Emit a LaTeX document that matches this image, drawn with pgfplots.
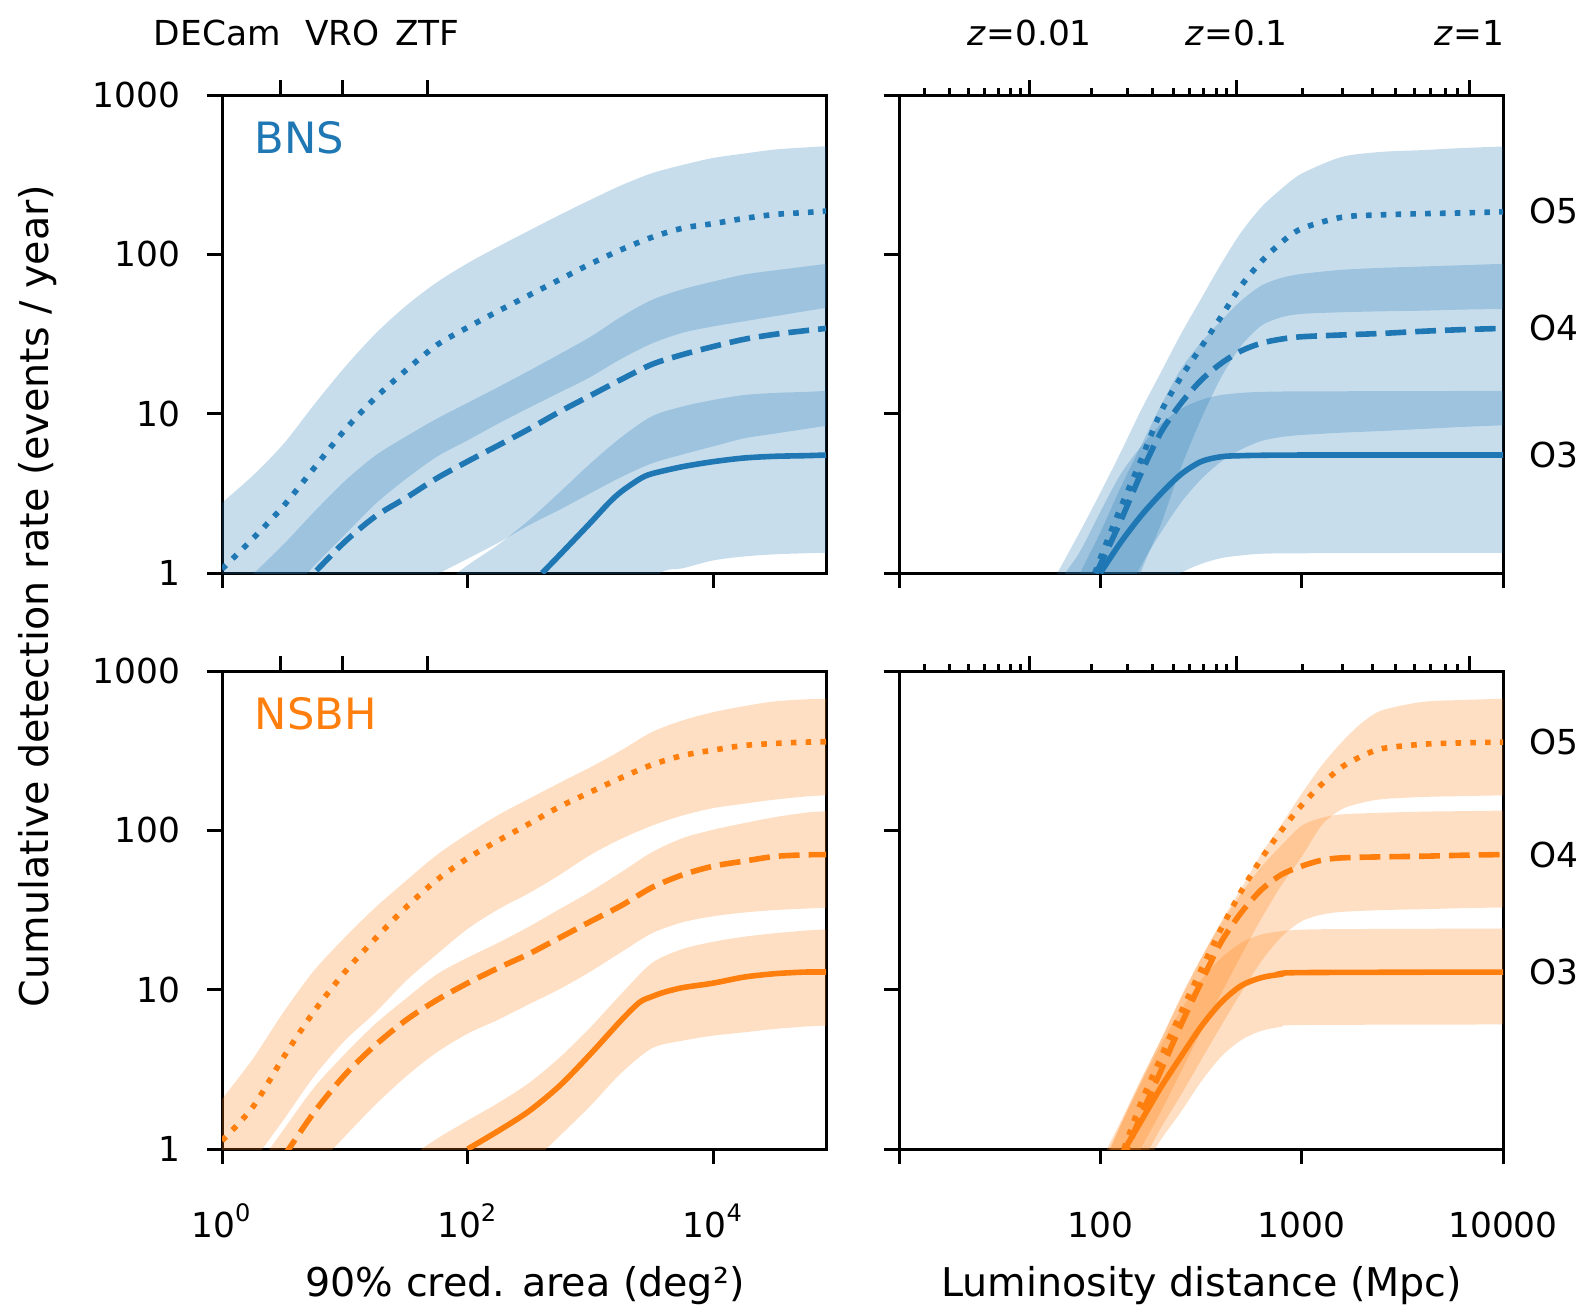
\documentclass[border=0pt]{standalone}
\usepackage{fontspec}
\setmainfont{DejaVu Sans}
\usepackage{pgfplots}
\usepgfplotslibrary{fillbetween}
\pgfplotsset{compat=1.18}
\definecolor{C0}{HTML}{1F77B4}
\definecolor{C1}{HTML}{FF7F0E}
\newcommand{\tickfont}{\fontsize{8.6}{10}\selectfont}
\newcommand{\labfont}{\fontsize{9.9}{12}\selectfont}
\newcommand{\panfont}{\fontsize{10.8}{12}\selectfont}
\pgfplotsset{
 every axis/.append style={width=151pt,height=119.5pt,scale only axis,anchor=south west,
   tick align=outside, major tick length=3.8pt, minor tick length=1.8pt,
   axis line style={line width=0.75pt},
   every tick/.append style={line width=0.75pt,black},
   tick label style={font=\tickfont}},
 edge/.style={draw=none, smooth, tension=0.5, forget plot},
 myband/.style={fill=#1, fill opacity=0.25, draw=none},
 mymed/.style={color=#1, line width=1.4pt, smooth, tension=0.5},
 mydsh/.style={dash pattern=on 5.2pt off 2.25pt},
 mydtt/.style={dash pattern=on 1.4pt off 2.3pt},
}
\begin{document}
\begin{tikzpicture}
% ---------------- top left: BNS vs area ----------------
\begin{axis}[at={(55.5pt,-143.25pt)}, xmode=log, ymode=log, ymin=1, ymax=1000, xmin=1, xmax=82600,
  ytick={1,10,100,1000}, xminorticks=false, yminorticks=false,
  xtick pos=left, ytick pos=left,
  xticklabel style={anchor=base,yshift=-18.2pt},
  yticklabel style={anchor=east,inner sep=0pt,xshift=-6.5pt},
  xtick={1,100,10000}, xticklabels={,,}, yticklabels={1,10,100,1000}]
\addplot[edge, name path=u5] coordinates {(1,2.76) (1.778,4.08) (3.162,6.45) (5.623,11.4) (10,19.6) (17.78,31.8) (31.62,47.7) (56.23,66.8) (100,88.0) (177.8,112) (316.2,141) (562.3,177) (1000,220) (1778,271) (3162,323) (5623,364) (10000,403) (17783,429) (31623,455) (56234,469) (82600,477)};
\addplot[edge, name path=l5] coordinates {(1,0.4) (3.162,0.70) (5.623,1.11) (10,1.74) (17.78,2.72) (31.62,3.91) (56.23,5.37) (100,6.81) (177.8,8.67) (316.2,10.9) (562.3,13.6) (1000,17.0) (1778,22.1) (3162,27.6) (5623,32.2) (10000,35.3) (17783,38.0) (31623,40.9) (56234,44.0) (82600,46.1)};
\addplot[edge, name path=u4] coordinates {(1.778,0.98) (3.162,1.51) (5.623,2.42) (10,3.78) (17.78,5.47) (31.62,7.21) (56.23,9.31) (100,11.7) (177.8,14.7) (316.2,18.6) (562.3,23.7) (1000,30.4) (1778,40.6) (3162,51.8) (5623,60.4) (10000,67.5) (17783,74.7) (31623,79.4) (56234,83.9) (82600,87.1)};
\addplot[edge, name path=l4] coordinates {(31.62,0.77) (56.23,0.98) (100,1.23) (177.8,1.55) (316.2,2.00) (562.3,2.50) (1000,3.17) (1778,4.00) (3162,4.88) (5623,5.55) (10000,6.24) (17783,7.00) (31623,7.50) (56234,8.02) (82600,8.38)};
\addplot[edge, name path=u3] coordinates {(56.23,0.8) (100,1.12) (177.8,1.51) (316.2,2.15) (562.3,3.22) (1000,4.88) (1778,7.11) (3162,9.64) (5623,11.1) (10000,12.2) (17783,13.1) (31623,13.5) (56234,13.7) (82600,13.9)};
\addplot[edge, name path=l3] coordinates {(1778,0.6) (3715,1.0) (5623,1.07) (10000,1.20) (17783,1.27) (31623,1.31) (56234,1.33) (82600,1.34)};
\addplot[myband=C0] fill between[of=u5 and l5];
\addplot[myband=C0] fill between[of=u4 and l4];
\addplot[myband=C0] fill between[of=u3 and l3];
\addplot[mymed=C0] coordinates {(404,1) (562.3,1.30) (1000,2.07) (1413,2.76) (1778,3.24) (2512,3.89) (3162,4.20) (5623,4.65) (10000,5.0) (17783,5.27) (31623,5.40) (56234,5.45) (82600,5.5)};
\addplot[mymed=C0, mydsh] coordinates {(3.98,0.76) (5.623,1.0) (10,1.57) (17.78,2.27) (31.62,2.97) (56.23,3.94) (100,5.02) (177.8,6.33) (316.2,8.02) (562.3,10.3) (1000,13.0) (1778,16.4) (3162,20.4) (5623,23.5) (10000,26.4) (17783,29.3) (31623,31.5) (56234,33.2) (82600,34.3)};
\addplot[mymed=C0, mydtt] coordinates {(1,1.06) (1.778,1.64) (3.162,2.63) (5.623,4.56) (10,7.91) (17.78,12.6) (31.62,18.8) (56.23,27.0) (100,34.8) (177.8,44.1) (316.2,55.4) (562.3,69.5) (1000,87.2) (1778,107) (3162,128) (5623,146) (10000,156) (17783,168) (31623,178) (56234,183) (82600,187)};
\node[anchor=north west, inner sep=0pt, text=C0, font=\panfont] at (rel axis cs:0.053,0.946) {BNS};
\end{axis}
\begin{axis}[at={(55.5pt,-143.25pt)}, xmode=log, ymode=log, ymin=1, ymax=1000, xmin=1, xmax=82600,
  hide y axis, axis x line*=top, xminorticks=false,
  xticklabel style={anchor=base, yshift=8.7pt},
  xtick={3,9.6,47}, xticklabels={\llap{DECam},VRO,ZTF}]
\end{axis}
% ---------------- top right: BNS vs distance ----------------
\begin{axis}[at={(224.75pt,-143.25pt)}, xmode=log, ymode=log, ymin=1, ymax=1000, xmin=10, xmax=10000,
  ytick={1,10,100,1000}, xminorticks=false, yminorticks=false,
  xtick pos=left, ytick pos=left,
  xtick={10,100,1000,10000}, xticklabels={,,,}, yticklabels={,,,}]
\addplot[edge, name path=u5] coordinates {(50.1,0.63) (61.2,1.0) (79.43,1.83) (100,3.19) (125.9,5.69) (158.5,10.4) (199.5,18.1) (251.2,31.6) (316.2,52.5) (398.1,87.2) (501.2,138) (631,198) (794.3,258) (1000,321) (1585,409) (2512,440) (3981,451) (6310,465) (10000,475)};
\addplot[edge, name path=l5] coordinates {(125.9,0.4) (158.5,1.0) (199.5,2.01) (251.2,4.58) (316.2,9.23) (398.1,16.9) (501.2,26.7) (631,35.7) (794.3,40.3) (1000,42.3) (1585,43.3) (2512,43.9) (3981,44.3) (6310,45.0) (10000,45.4)};
\addplot[edge, name path=u4] coordinates {(70.8,0.7) (79.43,1.0) (100,1.80) (125.9,3.43) (158.5,6.21) (199.5,11.2) (251.2,19.0) (316.2,28.0) (398.1,38.4) (501.2,51.3) (631,63.7) (794.3,71.2) (1000,75.4) (1585,80.0) (2512,82.3) (3981,83.9) (6310,85.5) (10000,87.2)};
\addplot[edge, name path=l4] coordinates {(125.9,0.6) (158.5,1.10) (199.5,1.79) (251.2,2.76) (316.2,3.87) (398.1,5.00) (501.2,5.97) (631,6.74) (794.3,7.14) (1000,7.35) (1585,7.60) (2512,7.79) (3981,8.02) (6310,8.26) (10000,8.45)};
\addplot[edge, name path=u3] coordinates {(56.2,0.7) (67,1.0) (79.43,1.37) (100,2.42) (125.9,4.16) (158.5,6.18) (199.5,8.58) (251.2,10.7) (316.2,12.2) (398.1,13.1) (501.2,13.5) (631,13.7) (1000,13.8) (10000,13.9)};
\addplot[edge, name path=l3] coordinates {(199.5,0.8) (251.2,1.0) (316.2,1.14) (398.1,1.24) (501.2,1.29) (631,1.32) (1000,1.33) (10000,1.34)};
\addplot[myband=C0] fill between[of=u5 and l5];
\addplot[myband=C0] fill between[of=u4 and l4];
\addplot[myband=C0] fill between[of=u3 and l3];
\addplot[mymed=C0] coordinates {(100,1.0) (125.9,1.55) (158.5,2.27) (199.5,3.14) (251.2,4.16) (316.2,5.00) (398.1,5.37) (501.2,5.45) (631,5.48) (1000,5.5) (10000,5.5)};
\addplot[mymed=C0, mydsh] coordinates {(95,1.0) (100,1.13) (125.9,2.11) (158.5,4.16) (199.5,7.60) (251.2,11.6) (316.2,16.2) (398.1,20.7) (501.2,24.8) (631,27.7) (794.3,29.4) (1000,30.4) (1585,31.2) (2512,31.9) (3981,32.9) (6310,33.7) (10000,34.3)};
\addplot[mymed=C0, mydtt] coordinates {(94,1.0) (100,1.24) (125.9,2.56) (158.5,5.05) (199.5,10.2) (251.2,16.9) (316.2,26.1) (398.1,40.6) (501.2,63.7) (631,90.2) (794.3,119) (1000,145) (1585,171) (2512,177) (3981,180) (6310,182) (10000,185)};
\end{axis}
\begin{axis}[at={(224.75pt,-143.25pt)}, xmode=log, ymode=log, ymin=1, ymax=1000, xmin=10, xmax=10000,
  hide y axis, axis x line*=top, clip=false,
  xticklabel style={anchor=base, yshift=8.7pt},
  xtick={44.6,475.8,6791},
  minor xtick={13.31,17.76,22.21,26.68,31.14,35.62,40.11,89.87,135.8,182.5,229.6,277.6,326.2,375.4,425.4,1008,1598,2235,2913,3629,4378,5156,5960},
  xticklabels={\textit{z}=0.01,\textit{z}=0.1,\textit{z}=1}]
\node[anchor=west, inner sep=0pt, font=\tickfont, xshift=6.5pt] at (axis cs:10000,188) {O5};
\node[anchor=west, inner sep=0pt, font=\tickfont, xshift=6.5pt] at (axis cs:10000,34.5) {O4};
\node[anchor=west, inner sep=0pt, font=\tickfont, xshift=6.5pt] at (axis cs:10000,5.5) {O3};
\end{axis}
% ---------------- bottom left: NSBH vs area ----------------
\begin{axis}[at={(55.5pt,-287.25pt)}, xmode=log, ymode=log, ymin=1, ymax=1000, xmin=1, xmax=82600,
  ytick={1,10,100,1000}, xminorticks=false, yminorticks=false,
  xtick pos=left, ytick pos=left,
  xticklabel style={anchor=base,yshift=-18.2pt},
  yticklabel style={anchor=east,inner sep=0pt,xshift=-6.5pt},
  xtick={1,100,10000}, xticklabels={10\textsuperscript{0},10\textsuperscript{2},10\textsuperscript{4}}, yticklabels={1,10,100,1000}]
\addplot[edge, name path=u5] coordinates {(1,2.06) (1.778,3.67) (3.162,7.22) (5.623,13.2) (10,21.3) (17.78,32.9) (31.62,48.4) (56.23,70.2) (100,95.1) (177.8,125) (316.2,158) (562.3,199) (1000,249) (1778,318) (3162,414) (5623,490) (10000,552) (17783,602) (31623,645) (56234,664) (82600,670)};
\addplot[edge, name path=l5] coordinates {(1,0.4) (1.778,0.82) (3.162,1.52) (5.623,2.86) (10,4.79) (17.78,7.21) (31.62,11.4) (56.23,16.7) (100,24.1) (177.8,32.0) (316.2,40.4) (562.3,52.6) (1000,70.2) (1778,88.5) (3162,107) (5623,124) (10000,138) (17783,147) (31623,156) (56234,163) (82600,166)};
\addplot[edge, name path=u4] coordinates {(1.778,0.71) (3.162,1.32) (5.623,2.43) (10,3.95) (17.78,6.12) (31.62,8.83) (56.23,12.5) (100,15.9) (177.8,19.7) (316.2,24.9) (562.3,32.1) (1000,41.3) (1778,54.7) (3162,72.9) (5623,89.3) (10000,101) (17783,111) (31623,121) (56234,129) (82600,132)};
\addplot[edge, name path=l4] coordinates {(5.623,0.75) (10,1.20) (17.78,1.90) (31.62,2.86) (56.23,4.05) (100,5.30) (177.8,6.49) (316.2,8.11) (562.3,10.1) (1000,13.0) (1778,17.2) (3162,22.6) (5623,26.5) (10000,28.9) (17783,30.5) (31623,31.6) (56234,32.3) (82600,32.6)};
\addplot[edge, name path=u3] coordinates {(31.62,0.86) (56.23,1.16) (100,1.51) (177.8,1.95) (316.2,2.60) (562.3,3.76) (1000,5.81) (1778,9.40) (3162,14.7) (5623,18.0) (10000,20.0) (17783,21.5) (31623,22.6) (56234,23.5) (82600,23.9)};
\addplot[edge, name path=l3] coordinates {(316.2,0.79) (562.3,1.21) (1000,1.87) (1778,3.00) (3162,4.29) (5623,4.79) (10000,5.15) (17783,5.40) (31623,5.67) (56234,5.87) (82600,5.95)};
\addplot[myband=C1] fill between[of=u5 and l5];
\addplot[myband=C1] fill between[of=u4 and l4];
\addplot[myband=C1] fill between[of=u3 and l3];
\addplot[mymed=C1] coordinates {(100,1.0) (177.8,1.30) (316.2,1.73) (562.3,2.50) (1000,3.95) (1778,6.43) (2512,8.34) (3162,9.05) (3981,9.64) (5623,10.3) (10000,11.0) (17783,12.0) (31623,12.6) (56234,12.9) (82600,12.9)};
\addplot[mymed=C1, mydsh] coordinates {(3.162,0.89) (5.623,1.70) (10,2.92) (17.78,4.50) (31.62,6.46) (56.23,8.62) (100,11.0) (177.8,13.7) (316.2,16.8) (562.3,21.2) (1000,26.8) (1778,33.7) (3162,43.8) (5623,52.6) (10000,59.6) (17783,64.1) (31623,68.6) (56234,70.2) (82600,70.5)};
\addplot[mymed=C1, mydtt] coordinates {(1,1.13) (1.778,1.83) (3.162,3.76) (5.623,7.32) (10,12.9) (17.78,21.0) (31.62,33.0) (56.23,48.9) (100,66.9) (177.8,86.4) (316.2,110) (562.3,141) (1000,174) (1778,214) (3162,258) (5623,295) (10000,319) (17783,341) (31623,351) (56234,358) (82600,360)};
\node[anchor=north west, inner sep=0pt, text=C1, font=\panfont] at (rel axis cs:0.053,0.946) {NSBH};
\end{axis}
\begin{axis}[at={(55.5pt,-287.25pt)}, xmode=log, ymode=log, ymin=1, ymax=1000, xmin=1, xmax=82600,
  hide y axis, axis x line*=top, xminorticks=false,
  xtick={3,9.6,47}, xticklabels={,,}]
\end{axis}
% ---------------- bottom right: NSBH vs distance ----------------
\begin{axis}[at={(224.75pt,-287.25pt)}, xmode=log, ymode=log, ymin=1, ymax=1000, xmin=10, xmax=10000,
  ytick={1,10,100,1000}, xminorticks=false, yminorticks=false,
  xtick pos=left, ytick pos=left,
  xticklabel style={anchor=base,yshift=-18.2pt},
  xtick={10,100,1000,10000}, xticklabels={,100,1000,10000}, yticklabels={,,,}]
\addplot[edge, name path=u5] coordinates {(100,0.83) (125.9,1.48) (158.5,2.71) (199.5,4.83) (251.2,8.81) (316.2,15.7) (398.1,26.7) (501.2,43.2) (631,71.5) (794.3,109) (1000,170) (1259,256) (1585,359) (1995,474) (2512,567) (3981,640) (6310,658) (10000,670)};
\addplot[edge, name path=l5] coordinates {(125.9,0.55) (158.5,1.0) (199.5,1.71) (251.2,3.05) (316.2,5.44) (398.1,9.47) (501.2,16.5) (631,28.0) (794.3,45.3) (1000,68.2) (1259,108) (1585,136) (1995,149) (2512,157) (3981,162) (6310,164) (10000,166)};
\addplot[edge, name path=u4] coordinates {(100,0.69) (125.9,1.41) (158.5,2.64) (199.5,4.83) (251.2,9.02) (316.2,15.7) (398.1,26.0) (501.2,40.2) (631,59.0) (794.3,80.7) (1000,107) (1259,120) (1585,126) (2512,129) (3981,131) (6310,132) (10000,133)};
\addplot[edge, name path=l4] coordinates {(158.5,0.79) (199.5,1.35) (251.2,2.18) (316.2,3.61) (398.1,5.94) (501.2,9.61) (631,15.1) (794.3,21.5) (1000,26.9) (1259,29.6) (1585,30.8) (2512,31.6) (3981,32.0) (6310,32.5) (10000,32.8)};
\addplot[edge, name path=u3] coordinates {(100,0.76) (125.9,1.41) (158.5,2.55) (199.5,4.49) (251.2,7.45) (316.2,11.5) (398.1,15.8) (501.2,19.7) (631,22.2) (794.3,23.3) (1000,23.8) (1585,24.0) (10000,24.2)};
\addplot[edge, name path=l3] coordinates {(158.5,0.72) (199.5,1.14) (251.2,1.71) (316.2,2.64) (398.1,3.80) (501.2,4.83) (631,5.52) (794.3,5.85) (1000,6.00) (10000,6.05)};
\addplot[myband=C1] fill between[of=u5 and l5];
\addplot[myband=C1] fill between[of=u4 and l4];
\addplot[myband=C1] fill between[of=u3 and l3];
\addplot[mymed=C1] coordinates {(125.9,0.9) (158.5,1.48) (199.5,2.43) (251.2,3.80) (316.2,5.85) (398.1,8.32) (501.2,10.6) (631,11.9) (794.3,12.5) (1000,12.8) (10000,12.9)};
\addplot[mymed=C1, mydsh] coordinates {(125.9,0.79) (158.5,1.60) (199.5,3.08) (251.2,6.00) (316.2,11.1) (398.1,19.9) (501.2,30.5) (631,42.4) (794.3,52.8) (1000,59.6) (1259,65.0) (1585,67.2) (2512,68.2) (3981,68.8) (6310,69.8) (10000,70.5)};
\addplot[mymed=C1, mydtt] coordinates {(131,1.0) (158.5,1.93) (199.5,3.74) (251.2,7.20) (316.2,13.3) (398.1,24.1) (501.2,41.5) (631,66.5) (794.3,100) (1000,144) (1259,195) (1585,250) (1995,293) (2512,326) (3981,347) (6310,354) (10000,358)};
\end{axis}
\begin{axis}[at={(224.75pt,-287.25pt)}, xmode=log, ymode=log, ymin=1, ymax=1000, xmin=10, xmax=10000,
  hide y axis, axis x line*=top, clip=false,
  xtick={44.6,475.8,6791},
  minor xtick={13.31,17.76,22.21,26.68,31.14,35.62,40.11,89.87,135.8,182.5,229.6,277.6,326.2,375.4,425.4,1008,1598,2235,2913,3629,4378,5156,5960},
  xticklabels={,,}]
\node[anchor=west, inner sep=0pt, font=\tickfont, xshift=6.5pt] at (axis cs:10000,358) {O5};
\node[anchor=west, inner sep=0pt, font=\tickfont, xshift=6.5pt] at (axis cs:10000,70.5) {O4};
\node[anchor=west, inner sep=0pt, font=\tickfont, xshift=6.5pt] at (axis cs:10000,12.9) {O3};
\end{axis}
% ---------------- labels ----------------
\node[rotate=90, anchor=base, font=\labfont, inner sep=0pt] at (12.1pt,-149pt) {Cumulative detection rate (events / year)};
\node[anchor=base, font=\labfont, inner sep=0pt] at (131.25pt,-324pt) {90\% cred. area (deg²)};
\node[anchor=base, font=\labfont, inner sep=0pt] at (300.4pt,-324pt) {Luminosity distance (Mpc)};
\pgfresetboundingbox
\path[use as bounding box] (0pt,0pt) rectangle (395.75pt,-326.25pt);
\end{tikzpicture}
\end{document}
